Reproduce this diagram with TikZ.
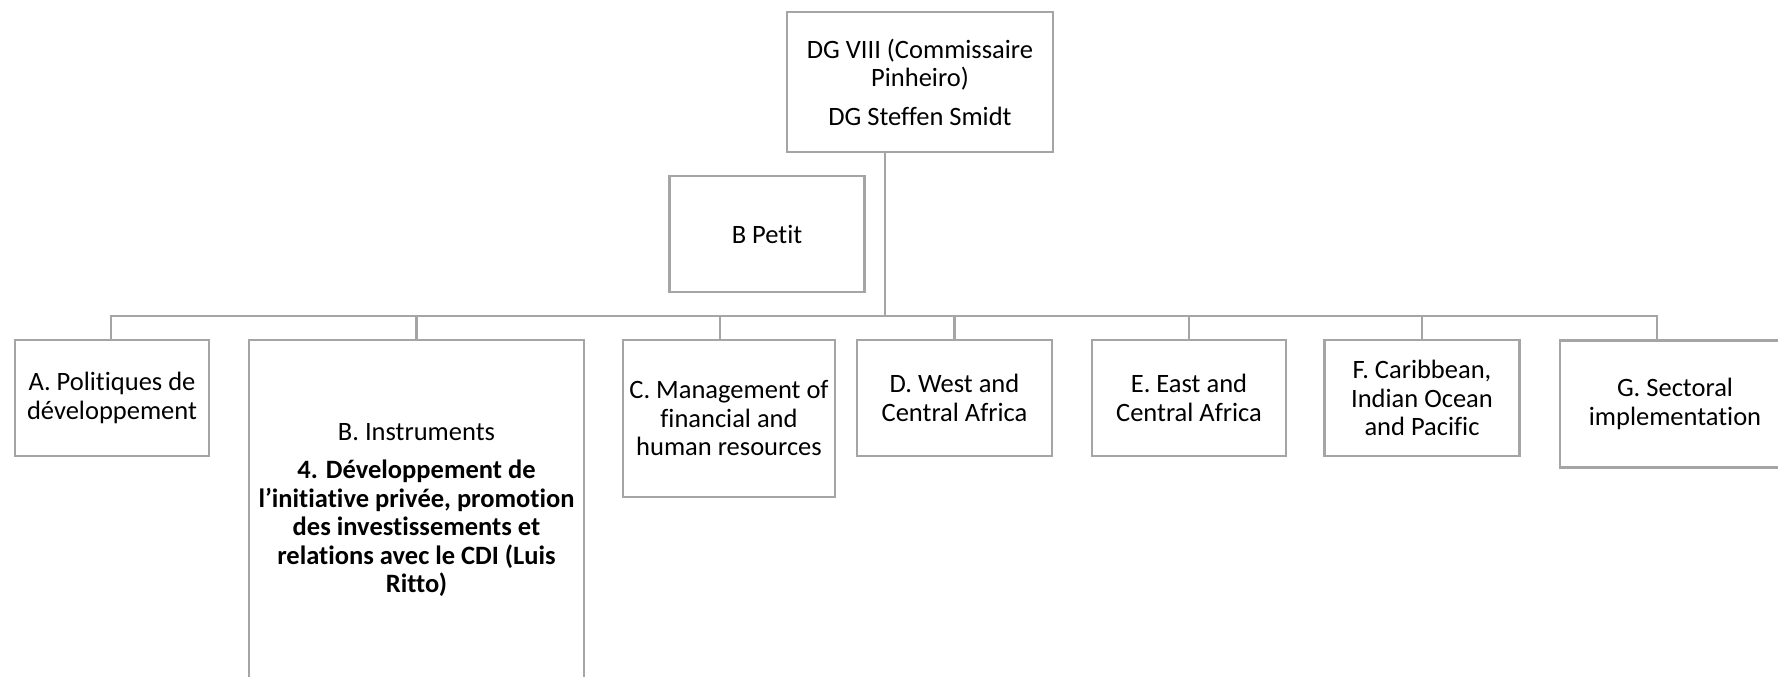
\documentclass[tikz,border=0pt]{standalone}
\usepackage{fontspec}
\setmainfont{Carlito}[Ligatures={NoCommon}]
\usepackage{tikz}
\usetikzlibrary{positioning}
\definecolor{boxgray}{HTML}{A5A5A5}

\begin{document}
\begin{tikzpicture}[
  x=1pt,y=-1pt,
  orgnode/.style={draw=boxgray,line width=2.6pt,fill=white,align=center,
    inner sep=2pt,font=\fontsize{26.5}{28.5}\selectfont},
  ]
  \tikzset{%
    link/.style={
      draw=boxgray,
      line width=2.4pt,
    },
  }
  \useasboundingbox (0,0) rectangle (1778,677);
  %Nodes
  \node[orgnode,minimum width=266pt,minimum height=140pt](dg) at (920,82)
    {DG VIII (Commissaire\\Pinheiro)\\[10pt]DG Steffen Smidt};
  \node[orgnode,minimum width=195pt,minimum height=116pt](petit) at (767,234) {B Petit};
  \coordinate (bus) at (885,316);
  \node[orgnode,minimum width=194pt,minimum height=116pt](a) at (112,398)
    {A. Politiques de\\développement};
  \node[orgnode,minimum width=335pt,minimum height=340pt](b) at (416.5,510)
    {B. Instruments\\[10pt]\textbf{4. Développement de}\\\textbf{l’initiative privée, promotion}\\
     \textbf{des investissements et}\\\textbf{relations avec le CDI (Luis}\\\textbf{Ritto)}};
  \node[orgnode,minimum width=212pt,minimum height=157pt](c) at (729,418.5)
    {C. Management of\\financial and\\human resources};
  \node[orgnode,minimum width=195pt,minimum height=116pt](d) at (954.5,398)
    {D. West and\\Central Africa};
  \node[orgnode,minimum width=194pt,minimum height=116pt](e) at (1189,398)
    {E. East and\\Central Africa};
  \node[orgnode,minimum width=195pt,minimum height=116pt](f) at (1422,398)
    {F. Caribbean,\\Indian Ocean\\and Pacific};
  \node[orgnode,minimum width=230pt,minimum height=127pt](g) at (1675,404)
    {G. Sectoral\\implementation};
  %Lines
  \draw[link] (bus |- dg.south) -- (bus);
  \draw[link] (bus) -| ([xshift=-1pt]a.north);
  \draw[link] (bus) -| (b.north);
  \draw[link] (bus) -| ([xshift=-9pt]c.north);
  \draw[link] (bus) -| (d.north);
  \draw[link] (bus) -| (e.north);
  \draw[link] (bus) -| (f.north);
  \draw[link] (bus) -| ([xshift=-18pt]g.north);
\end{tikzpicture}
\end{document}
